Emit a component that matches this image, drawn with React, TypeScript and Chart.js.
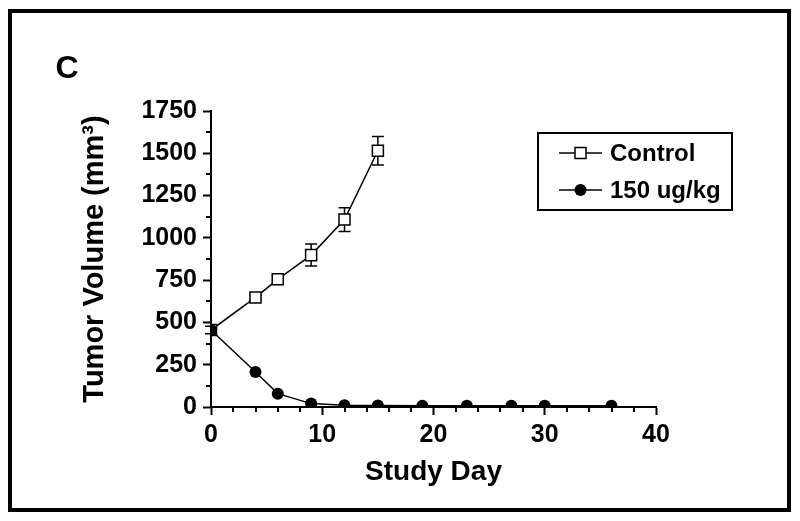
import { useEffect, useRef } from 'react';
import { Chart, registerables } from 'chart.js';

Chart.register(...registerables);

// ---- data ----
const controlDays = [0, 4, 6, 9, 12, 15];
const controlVolume = [455, 648, 755, 898, 1108, 1515];
const controlError = [22, 12, 20, 65, 70, 84];
const treatedDays = [0, 4, 6, 9, 12, 15, 19, 23, 27, 30, 36];
const treatedVolume = [455, 207, 79, 20, 10, 9, 8, 8, 8, 8, 8];
const xTickValues = [0, 10, 20, 30, 40];
const xMinorValues = [2, 4, 6, 8, 12, 14, 16, 18, 22, 24, 26, 28, 32, 34, 36, 38];
const yTickValues = [0, 250, 500, 750, 1000, 1250, 1500, 1750];
const yMinorValues = [125, 375, 625, 875, 1125, 1375, 1625];
const seriesLabels = ['Control', '150 ug/kg'];
const panelLabel = 'C';
const xTitle = 'Study Day';
const yTitle = 'Tumor Volume (mm\u00B3)';

const FONT = "'Liberation Sans', Arial, Helvetica, sans-serif";

export default function App() {
  const ref = useRef<HTMLCanvasElement | null>(null);

  useEffect(() => {
    const canvas = ref.current;
    if (!canvas) return;

    const drawSquare = (ctx: CanvasRenderingContext2D, x: number, y: number, s: number) => {
      ctx.beginPath();
      ctx.rect(x - s / 2, y - s / 2, s, s);
      ctx.fillStyle = '#fff';
      ctx.fill();
      ctx.lineWidth = 1.5;
      ctx.strokeStyle = '#000';
      ctx.stroke();
    };
    const drawDot = (ctx: CanvasRenderingContext2D, x: number, y: number, r: number) => {
      ctx.beginPath();
      ctx.arc(x, y, r, 0, Math.PI * 2);
      ctx.fillStyle = '#000';
      ctx.fill();
    };

    const decorPlugin = {
      id: 'decor',
      beforeDatasetsDraw(chart: any) {
        const ctx = chart.ctx as CanvasRenderingContext2D;
        const xs = chart.scales.x;
        const ys = chart.scales.y;
        ctx.save();
        ctx.strokeStyle = '#000';
        ctx.lineWidth = 1.5;
        controlDays.forEach((d, i) => {
          const px = xs.getPixelForValue(d);
          const hi = ys.getPixelForValue(controlVolume[i] + controlError[i]);
          const lo = ys.getPixelForValue(controlVolume[i] - controlError[i]);
          ctx.beginPath();
          ctx.moveTo(px, hi);
          ctx.lineTo(px, lo);
          ctx.moveTo(px - 6, hi);
          ctx.lineTo(px + 6, hi);
          ctx.moveTo(px - 6, lo);
          ctx.lineTo(px + 6, lo);
          ctx.stroke();
        });
        ctx.restore();
      },
      afterDraw(chart: any) {
        const ctx = chart.ctx as CanvasRenderingContext2D;
        const xs = chart.scales.x;
        const ys = chart.scales.y;
        const area = chart.chartArea;
        ctx.save();
        ctx.strokeStyle = '#000';
        ctx.lineWidth = 2;
        xMinorValues.forEach((v) => {
          const px = Math.round(xs.getPixelForValue(v));
          ctx.beginPath();
          ctx.moveTo(px, area.bottom);
          ctx.lineTo(px, area.bottom + 5);
          ctx.stroke();
        });
        yMinorValues.forEach((v) => {
          const py = Math.round(ys.getPixelForValue(v));
          ctx.beginPath();
          ctx.moveTo(area.left, py);
          ctx.lineTo(area.left - 5, py);
          ctx.stroke();
        });
        ctx.lineWidth = 4;
        ctx.strokeRect(10, 11, 779, 499);
        ctx.fillStyle = '#000';
        ctx.font = `bold 32px ${FONT}`;
        ctx.textAlign = 'center';
        ctx.textBaseline = 'middle';
        ctx.fillText(panelLabel, 67, 69);
        ctx.lineWidth = 2;
        ctx.strokeRect(538, 133, 194, 77);
        const rows = [153, 190];
        ctx.font = `bold 24px ${FONT}`;
        ctx.textAlign = 'left';
        rows.forEach((ry, i) => {
          ctx.lineWidth = 1.5;
          ctx.strokeStyle = '#000';
          ctx.beginPath();
          ctx.moveTo(559, ry);
          ctx.lineTo(602, ry);
          ctx.stroke();
          if (i === 0) drawSquare(ctx, 580.5, ry, 11);
          else drawDot(ctx, 580.5, ry, 6);
          ctx.fillStyle = '#000';
          ctx.fillText(seriesLabels[i], 610, ry + 1);
        });
        ctx.restore();
      },
    };

    const tickFont = { family: FONT, size: 25, weight: 'bold' as const };
    const titleFont = { family: FONT, size: 28, weight: 'bold' as const };
    const yTitleFont = { family: FONT, size: 29, weight: 'bold' as const };

    const chart = new Chart(canvas, {
      type: 'line',
      data: {
        datasets: [
          {
            label: seriesLabels[1],
            data: treatedDays.map((d, i) => ({ x: d, y: treatedVolume[i] })),
            borderColor: '#000',
            borderWidth: 1.5,
            backgroundColor: '#000',
            pointStyle: 'circle',
            pointRadius: 6,
            pointBorderWidth: 0,
            pointBackgroundColor: '#000',
            tension: 0,
            order: 0,
          },
          {
            label: seriesLabels[0],
            data: controlDays.map((d, i) => ({ x: d, y: controlVolume[i] })),
            borderColor: '#000',
            borderWidth: 1.5,
            backgroundColor: '#fff',
            pointStyle: 'rect',
            pointRadius: 7.8,
            pointBorderWidth: 1.5,
            pointBorderColor: '#000',
            pointBackgroundColor: '#fff',
            tension: 0,
            order: 1,
          },
        ],
      },
      options: {
        responsive: false,
        animation: false,
        events: [],
        layout: { padding: { top: 111, right: 144, bottom: 0, left: 0 } },
        plugins: { legend: { display: false }, tooltip: { enabled: false } },
        scales: {
          x: {
            type: 'linear',
            min: 0,
            max: 40,
            afterBuildTicks: (s: any) => {
              s.ticks = xTickValues.map((v) => ({ value: v }));
            },
            afterFit: (s: any) => {
              s.height = 114;
            },
            border: { display: true, color: '#000', width: 2 },
            grid: { display: true, drawOnChartArea: false, drawTicks: true, tickLength: 8, tickWidth: 2, tickColor: '#000' },
            ticks: { color: '#000', font: tickFont, padding: 5, maxRotation: 0, autoSkip: false, callback: (v: any) => String(v) },
            title: { display: true, text: xTitle, color: '#000', font: titleFont, padding: { top: 0, bottom: 32 } },
          },
          y: {
            type: 'linear',
            min: 0,
            max: 1750,
            afterBuildTicks: (s: any) => {
              s.ticks = yTickValues.map((v) => ({ value: v }));
            },
            afterFit: (s: any) => {
              s.width = 211;
            },
            border: { display: true, color: '#000', width: 2 },
            grid: { display: true, drawOnChartArea: false, drawTicks: true, tickLength: 8, tickWidth: 2, tickColor: '#000' },
            ticks: { color: '#000', font: tickFont, padding: 6, autoSkip: false, callback: (v: any) => String(v) },
            title: { display: true, text: yTitle, color: '#000', font: yTitleFont, padding: { top: 78, bottom: 0 } },
          },
        },
      },
      plugins: [decorPlugin],
    });

    return () => chart.destroy();
  }, []);

  return (
    <div style={{ position: 'absolute', left: 0, top: 0, width: 800, height: 521, background: '#fff' }}>
      <canvas ref={ref} width={800} height={521} style={{ display: 'block' }} />
    </div>
  );
}
